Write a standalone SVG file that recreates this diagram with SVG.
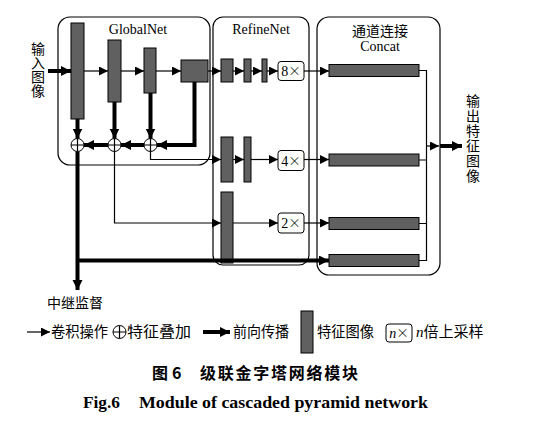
<svg xmlns="http://www.w3.org/2000/svg" width="543" height="427" viewBox="0 0 543 427">
<defs>
<style>
.frame{fill:none;stroke:#000;stroke-width:1.2}
.bar{fill:#606060;stroke:#000;stroke-width:1}
.up{fill:#fff;stroke:#000;stroke-width:1}
.thin{fill:none;stroke:#000;stroke-width:1.2}
.thick{fill:none;stroke:#000;stroke-width:4}
.sum{fill:#fff;stroke:#000;stroke-width:1}
.lat{font-family:"Liberation Serif","Times New Roman",serif;font-size:14px;fill:#000}
.x{font-family:"Noto Sans CJK SC",sans-serif;font-size:12.5px;font-weight:300}
.cjk{font-family:"Liberation Serif","Noto Sans CJK SC",serif;font-size:14px;fill:#000}
.leg{font-family:"Liberation Serif","Noto Sans CJK SC",serif;font-size:15px;fill:#000}
.cap{font-family:"Noto Sans CJK SC",sans-serif;font-size:16px;font-weight:bold;fill:#000}
.capen{font-family:"Liberation Serif","Times New Roman",serif;font-size:16px;font-weight:bold;fill:#000}
</style>
<marker id="a" markerUnits="userSpaceOnUse" markerWidth="10" markerHeight="10" refX="9" refY="4.5" orient="auto"><path d="M0,0L9,4.5L0,9z" fill="#000"/></marker>
<marker id="b" markerUnits="userSpaceOnUse" markerWidth="12" markerHeight="12" refX="10" refY="5" orient="auto"><path d="M0,0L10,5L0,10z" fill="#000"/></marker>
</defs>

<g id="globalnet">
<rect class="frame" x="58" y="17" width="152" height="148" rx="12"/>
<text class="lat" x="138" y="34" text-anchor="middle">GlobalNet</text>
<rect class="bar" x="71" y="23" width="13" height="96"/>
<rect class="bar" x="108" y="40" width="13" height="62"/>
<rect class="bar" x="144" y="48" width="12" height="45"/>
<rect class="bar" x="181" y="60" width="27" height="22"/>
<g id="sum1"><circle class="sum" cx="77.5" cy="145" r="6.5"/><path class="thin" d="M71,145H84M77.5,138.5V151.5" stroke-width="1"/></g>
<g id="sum2"><circle class="sum" cx="114.5" cy="145" r="6.5"/><path class="thin" d="M108,145H121M114.5,138.5V151.5" stroke-width="1"/></g>
<g id="sum3"><circle class="sum" cx="150.5" cy="145" r="6.5"/><path class="thin" d="M144,145H157M150.5,138.5V151.5" stroke-width="1"/></g>
</g>

<g id="refinenet">
<rect class="frame" x="213" y="17" width="96" height="248" rx="10"/>
<text class="lat" x="261" y="34" text-anchor="middle">RefineNet</text>
<rect class="bar" x="221" y="59" width="12" height="23"/>
<rect class="bar" x="244" y="59" width="7" height="23"/>
<rect class="bar" x="262" y="59" width="5" height="23"/>
<rect class="up" x="278" y="61.5" width="26" height="19" rx="3"/>
<text class="lat" x="291" y="76" text-anchor="middle">8<tspan class="x">×</tspan></text>
<rect class="bar" x="221" y="137" width="12" height="45"/>
<rect class="bar" x="244" y="137" width="7" height="45"/>
<rect class="up" x="278" y="150.5" width="26" height="20" rx="3"/>
<text class="lat" x="291" y="165.5" text-anchor="middle">4<tspan class="x">×</tspan></text>
<rect class="bar" x="221" y="192" width="12" height="71"/>
<rect class="up" x="278" y="213" width="26" height="20" rx="3"/>
<text class="lat" x="291" y="228" text-anchor="middle">2<tspan class="x">×</tspan></text>
</g>

<g id="concat">
<rect class="frame" x="317" y="17" width="123" height="258" rx="12"/>
<text class="cjk" x="380" y="36" text-anchor="middle">通道连接</text>
<text class="lat" x="380" y="51" text-anchor="middle">Concat</text>
<rect class="bar" x="329" y="64.5" width="90" height="12"/>
<rect class="bar" x="329" y="154" width="90" height="12"/>
<rect class="bar" x="329" y="217.5" width="90" height="12"/>
<rect class="bar" x="329" y="254.5" width="90" height="12"/>
</g>

<g id="input">
<text class="cjk" x="38" y="54" text-anchor="middle">输</text>
<text class="cjk" x="38" y="68" text-anchor="middle">入</text>
<text class="cjk" x="38" y="82" text-anchor="middle">图</text>
<text class="cjk" x="38" y="96" text-anchor="middle">像</text>
</g>

<g id="output">
<text class="cjk" x="473" y="106" text-anchor="middle">输</text>
<text class="cjk" x="473" y="121" text-anchor="middle">出</text>
<text class="cjk" x="473" y="136" text-anchor="middle">特</text>
<text class="cjk" x="473" y="151" text-anchor="middle">征</text>
<text class="cjk" x="473" y="166" text-anchor="middle">图</text>
<text class="cjk" x="473" y="181" text-anchor="middle">像</text>
</g>

<g id="supervision">
<text class="cjk" x="75" y="308" text-anchor="middle">中继监督</text>
</g>

<g id="connectors">
<path class="thick" d="M48,71H71" marker-end="url(#b)"/>
<path class="thin" d="M84,71H108" marker-end="url(#a)"/>
<path class="thin" d="M121,71H144" marker-end="url(#a)"/>
<path class="thin" d="M156,71H181" marker-end="url(#a)"/>
<path class="thin" d="M208,71H221" marker-end="url(#a)"/>
<path class="thin" d="M233,71H244" marker-end="url(#a)"/>
<path class="thin" d="M251,71H262" marker-end="url(#a)"/>
<path class="thin" d="M267,71H278" marker-end="url(#a)"/>
<path class="thin" d="M304,71H329" marker-end="url(#a)"/>
<path class="thick" d="M77.5,119V138.5" marker-end="url(#b)"/>
<path class="thick" d="M114.5,102V138.5" marker-end="url(#b)"/>
<path class="thick" d="M150.5,93V138.5" marker-end="url(#b)"/>
<path class="thick" d="M194.5,82V145H157" marker-end="url(#b)"/>
<path class="thick" d="M144,145H121" marker-end="url(#b)"/>
<path class="thick" d="M108,145H84" marker-end="url(#b)"/>
<path class="thin" d="M150.5,151.5V159.5H221" marker-end="url(#a)"/>
<path class="thin" d="M233,159.5H244" marker-end="url(#a)"/>
<path class="thin" d="M251,159.5H278" marker-end="url(#a)"/>
<path class="thin" d="M304,159.5H329" marker-end="url(#a)"/>
<path class="thin" d="M114.5,151.5V223H221" marker-end="url(#a)"/>
<path class="thin" d="M233,223H278" marker-end="url(#a)"/>
<path class="thin" d="M304,223H329" marker-end="url(#a)"/>
<path class="thick" d="M77.5,151.5V290" marker-end="url(#b)"/>
<path class="thick" d="M77.5,260.5H329" marker-end="url(#b)"/>
<path class="thin" d="M419,70.5H426.5V260.5H419M419,160H426.5M419,223.5H426.5"/>
<path class="thin" d="M426.5,146H439" marker-end="url(#a)"/>
<path class="thick" d="M440,146H462" marker-end="url(#b)"/>
</g>

<g id="legend">
<path class="thin" d="M27,332H50" marker-end="url(#a)"/>
<text class="leg" x="51" y="337" textLength="57" lengthAdjust="spacingAndGlyphs">卷积操作</text>
<circle class="sum" cx="119.5" cy="332" r="6.5"/>
<path class="thin" d="M113,332H126M119.5,325.5V338.5" stroke-width="1"/>
<text class="leg" x="127" y="337" textLength="64" lengthAdjust="spacingAndGlyphs">特征叠加</text>
<path class="thick" d="M203,332H230" marker-end="url(#b)"/>
<text class="leg" x="233" y="337" textLength="56" lengthAdjust="spacingAndGlyphs">前向传播</text>
<rect class="bar" x="301" y="311" width="12" height="42"/>
<text class="leg" x="317" y="337" textLength="57" lengthAdjust="spacingAndGlyphs">特征图像</text>
<rect class="up" x="386" y="324" width="26" height="18" rx="3"/>
<text class="lat" x="399" y="338" text-anchor="middle"><tspan font-style="italic">n</tspan><tspan class="x">×</tspan></text>
<text class="leg" x="416" y="337"><tspan font-style="italic">n</tspan><tspan textLength="60" lengthAdjust="spacingAndGlyphs">倍上采样</tspan></text>
</g>

<g id="caption">
<text class="cap" x="152" y="379">图</text>
<text class="cap" x="172" y="379" font-family="Liberation Sans,sans-serif">6</text>
<text class="cap" x="200" y="379" textLength="158" lengthAdjust="spacing">级联金字塔网络模块</text>
<text class="capen" x="83" y="408" textLength="37" lengthAdjust="spacingAndGlyphs">Fig.6</text>
<text class="capen" x="139" y="408" textLength="289" lengthAdjust="spacingAndGlyphs">Module of cascaded pyramid network</text>
</g>
</svg>
